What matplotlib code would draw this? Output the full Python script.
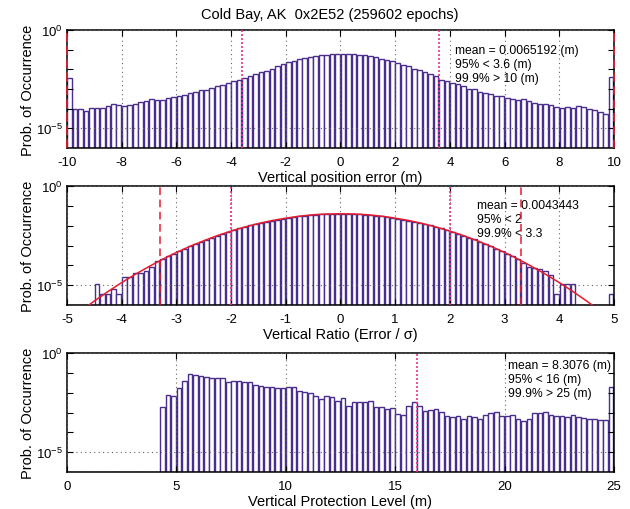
import numpy as np
import matplotlib
matplotlib.use('Agg')
import matplotlib.pyplot as plt
from matplotlib.ticker import NullFormatter

plt.rcParams['font.family'] = ['Liberation Sans', 'DejaVu Sans']
plt.rcParams['mathtext.fontset'] = 'custom'
plt.rcParams['mathtext.rm'] = 'Liberation Sans'
plt.rcParams['mathtext.default'] = 'rm'

title = 'Cold Bay, AK  0x2E52 (259602 epochs)'

# log10(prob) per 0.2 m bin, -10 .. 10 m (end bins hold the clipped tails)
vpe_log = [-2.43, -4.00, -4.03, -4.12, -3.95, -3.95, -3.98, -3.86, -3.74, -3.79,
           -3.86, -3.79, -3.74, -3.66, -3.61, -3.52, -3.55, -3.55, -3.47, -3.42,
           -3.38, -3.28, -3.18, -3.15, -3.04, -3.03, -2.94, -2.84, -2.82, -2.69,
           -2.59, -2.53, -2.43, -2.35, -2.24, -2.16, -2.06, -1.96, -1.85, -1.75,
           -1.65, -1.56, -1.48, -1.41, -1.36, -1.31, -1.28, -1.26, -1.24, -1.22,
           -1.22, -1.22, -1.24, -1.26, -1.29, -1.34, -1.39, -1.45, -1.51, -1.58,
           -1.67, -1.77, -1.85, -1.96, -2.04, -2.13, -2.26, -2.36, -2.52, -2.60,
           -2.70, -2.77, -2.86, -2.99, -3.01, -3.13, -3.20, -3.25, -3.33, -3.38,
           -3.45, -3.52, -3.57, -3.52, -3.62, -3.69, -3.74, -3.76, -3.81, -3.89,
           -3.98, -3.89, -3.96, -3.88, -3.93, -4.01, -4.06, -4.15, -4.27, -2.41]

# log10(prob) per 0.1 bin of error/sigma, -5 .. 5 (None = empty bin)
vr_log = [None, None, None, None, None, -4.93, -5.44, -5.44, -5.17, -5.44,
          -4.58, -4.58, -4.41, -4.41, -4.29, -4.09, -3.80, -3.69, -3.55, -3.42,
          -3.29, -3.17, -3.04, -2.90, -2.81, -2.70, -2.60, -2.50, -2.40, -2.31,
          -2.23, -2.14, -2.07, -1.99, -1.92, -1.86, -1.80, -1.74, -1.69, -1.64,
          -1.60, -1.56, -1.52, -1.49, -1.47, -1.44, -1.43, -1.41, -1.41, -1.40,
          -1.40, -1.41, -1.41, -1.43, -1.44, -1.47, -1.49, -1.52, -1.56, -1.60,
          -1.64, -1.69, -1.74, -1.79, -1.86, -1.92, -1.99, -2.07, -2.14, -2.23,
          -2.31, -2.40, -2.50, -2.60, -2.68, -2.81, -2.92, -3.04, -3.16, -3.29,
          -3.42, -3.55, -3.69, -3.90, -4.07, -4.12, -4.20, -4.29, -4.51, -5.44,
          -4.93, -4.93, -4.93, None, None, None, None, None, None, -5.44]

# unit normal overlay (red curve)
fit_x = [-4.75, -4.5, -4.25, -4.0, -3.75, -3.5, -3.25, -3.0, -2.75, -2.5,
         -2.25, -2.0, -1.75, -1.5, -1.25, -1.0, -0.75, -0.5, -0.25, 0.0,
         0.25, 0.5, 0.75, 1.0, 1.25, 1.5, 1.75, 2.0, 2.25, 2.5,
         2.75, 3.0, 3.25, 3.5, 3.75, 4.0, 4.25, 4.5, 4.75]
fit_log = [-6.30, -5.80, -5.32, -4.87, -4.45, -4.06, -3.69, -3.35, -3.04, -2.76,
           -2.50, -2.27, -2.07, -1.89, -1.74, -1.62, -1.52, -1.45, -1.41, -1.40,
           -1.41, -1.45, -1.52, -1.62, -1.74, -1.89, -2.07, -2.27, -2.50, -2.76,
           -3.04, -3.35, -3.69, -4.06, -4.45, -4.87, -5.32, -5.80, -6.30]

# log10(prob) per 0.25 m bin of VPL, 0 .. 25 m
vpl_log = [None, None, None, None, None, None, None, None, None, None,
           None, None, None, None, None, None, None, -2.70, -2.12, -2.17,
           -1.75, -1.40, -1.05, -1.10, -1.16, -1.23, -1.28, -1.25, -1.28, -1.47,
           -1.43, -1.42, -1.48, -1.48, -1.63, -1.67, -1.70, -1.72, -1.74, -1.74,
           -1.72, -1.72, -1.89, -1.94, -2.00, -2.19, -2.34, -2.19, -2.24, -2.41,
           -2.29, -2.68, -2.48, -2.49, -2.46, -2.43, -2.70, -2.71, -2.81, -2.78,
           -3.05, -3.13, -2.68, -2.48, -2.66, -2.93, -2.85, -2.80, -2.98, -3.18,
           -3.23, -3.20, -3.32, -3.15, -3.23, -3.32, -3.13, -3.01, -2.98, -3.17,
           -3.15, -3.13, -3.35, -3.45, -3.35, -3.00, -3.00, -2.95, -3.12, -3.18,
           -3.18, -3.23, -3.12, -3.25, -3.28, -3.32, -3.35, -3.38, -3.37, -1.69]

vpe_stats = 'mean = 0.0065192 (m)\n95% < 3.6 (m)\n99.9% > 10 (m)'
vr_stats = 'mean = 0.0043443\n95% < 2\n99.9% < 3.3'
vpl_stats = 'mean = 8.3076 (m)\n95% < 16 (m)\n99.9% > 25 (m)'

FLOOR = 1e-6
BAR_EDGE = '#4a2d8c'
PINK = '#ec2f93'
RED = '#e61c2e'


def draw_hist(ax, start, width, logs):
    vals = 10 ** np.array(logs, dtype=float)
    vals = np.nan_to_num(vals, nan=0.0)
    x = start + width * np.arange(len(vals))
    h = np.clip(vals - FLOOR, 0, None)
    ax.bar(x + 0.05 * width, h, width=0.85 * width, bottom=FLOOR, align='edge',
           facecolor='white', edgecolor=BAR_EDGE, linewidth=1.0, zorder=1)


def style_axes(ax, xlim, xticks, xlabel):
    ax.set_yscale('log')
    ax.set_ylim(FLOOR, 1)
    ax.set_xlim(*xlim)
    ax.set_xticks(xticks)
    ax.set_xticklabels([str(t) for t in xticks])
    ax.set_yticks([1e-5, 1])
    ax.set_yticklabels([r'$10^{-5}$', r'$10^{0}$'])
    ax.set_yticks([1e-4, 1e-3, 1e-2, 1e-1], minor=True)
    ax.yaxis.set_minor_formatter(NullFormatter())
    ax.tick_params(axis='both', which='both', direction='in', top=True, right=True,
                   length=4, width=0.8, labelsize=9.5, pad=3)
    ax.tick_params(axis='x', which='both', pad=5.5)
    ax.set_axisbelow(False)
    ax.grid(True, which='major', linestyle=(0, (1, 3)), color='#666666', linewidth=0.8)
    for s in ax.spines.values():
        s.set_linewidth(1.1)
    ax.set_xlabel(xlabel, fontsize=10.5, labelpad=1.8)
    ax.set_ylabel('Prob. of Occurrence', fontsize=10.5)
    ax.yaxis.set_label_coords(-0.058, 0.5)


fig = plt.figure(figsize=(6.3, 5.1), dpi=100)
fig.text(0.524, 0.9706, title, ha='center', va='center', fontsize=10.5)

# top: vertical position error
ax1 = fig.add_axes([0.1063, 0.7078, 0.8683, 0.2314])
draw_hist(ax1, -10.0, 0.2, vpe_log)
style_axes(ax1, (-10, 10), [-10, -8, -6, -4, -2, 0, 2, 4, 6, 8, 10], 'Vertical position error (m)')
for xv in (-3.6, 3.6):
    ax1.axvline(xv, color=PINK, linestyle=(0, (1.2, 1.2)), linewidth=1.2, zorder=4)
for xv in (-10, 10):
    ax1.axvline(xv, color=RED, linestyle=(0, (5, 3)), linewidth=1.2, zorder=4, clip_on=False)
ax1.text(0.709, 0.88, vpe_stats, transform=ax1.transAxes, ha='left', va='top',
         fontsize=8.7, linespacing=1.2)

# middle: normalised vertical error
ax2 = fig.add_axes([0.1063, 0.4000, 0.8683, 0.2333])
draw_hist(ax2, -5.0, 0.1, vr_log)
ax2.plot(fit_x, 10 ** np.array(fit_log), color=RED, linewidth=1.1, zorder=3)
style_axes(ax2, (-5, 5), [-5, -4, -3, -2, -1, 0, 1, 2, 3, 4, 5], 'Vertical Ratio (Error / σ)')
for xv in (-2, 2):
    ax2.axvline(xv, color=PINK, linestyle=(0, (1.2, 1.2)), linewidth=1.2, zorder=4)
for xv in (-3.3, 3.3):
    ax2.axvline(xv, color=RED, linestyle=(0, (5, 3)), linewidth=1.1, zorder=4)
ax2.text(0.75, 0.89, vr_stats, transform=ax2.transAxes, ha='left', va='top',
         fontsize=8.7, linespacing=1.2)

# bottom: vertical protection level
ax3 = fig.add_axes([0.1063, 0.0725, 0.8683, 0.2333])
draw_hist(ax3, 0.0, 0.25, vpl_log)
style_axes(ax3, (0, 25), [0, 5, 10, 15, 20, 25], 'Vertical Protection Level (m)')
ax3.axvline(16, color=PINK, linestyle=(0, (1.2, 1.2)), linewidth=1.2, zorder=4)
ax3.text(0.806, 0.95, vpl_stats, transform=ax3.transAxes, ha='left', va='top',
         fontsize=8.7, linespacing=1.2)

fig.savefig('out.png', dpi=100)
